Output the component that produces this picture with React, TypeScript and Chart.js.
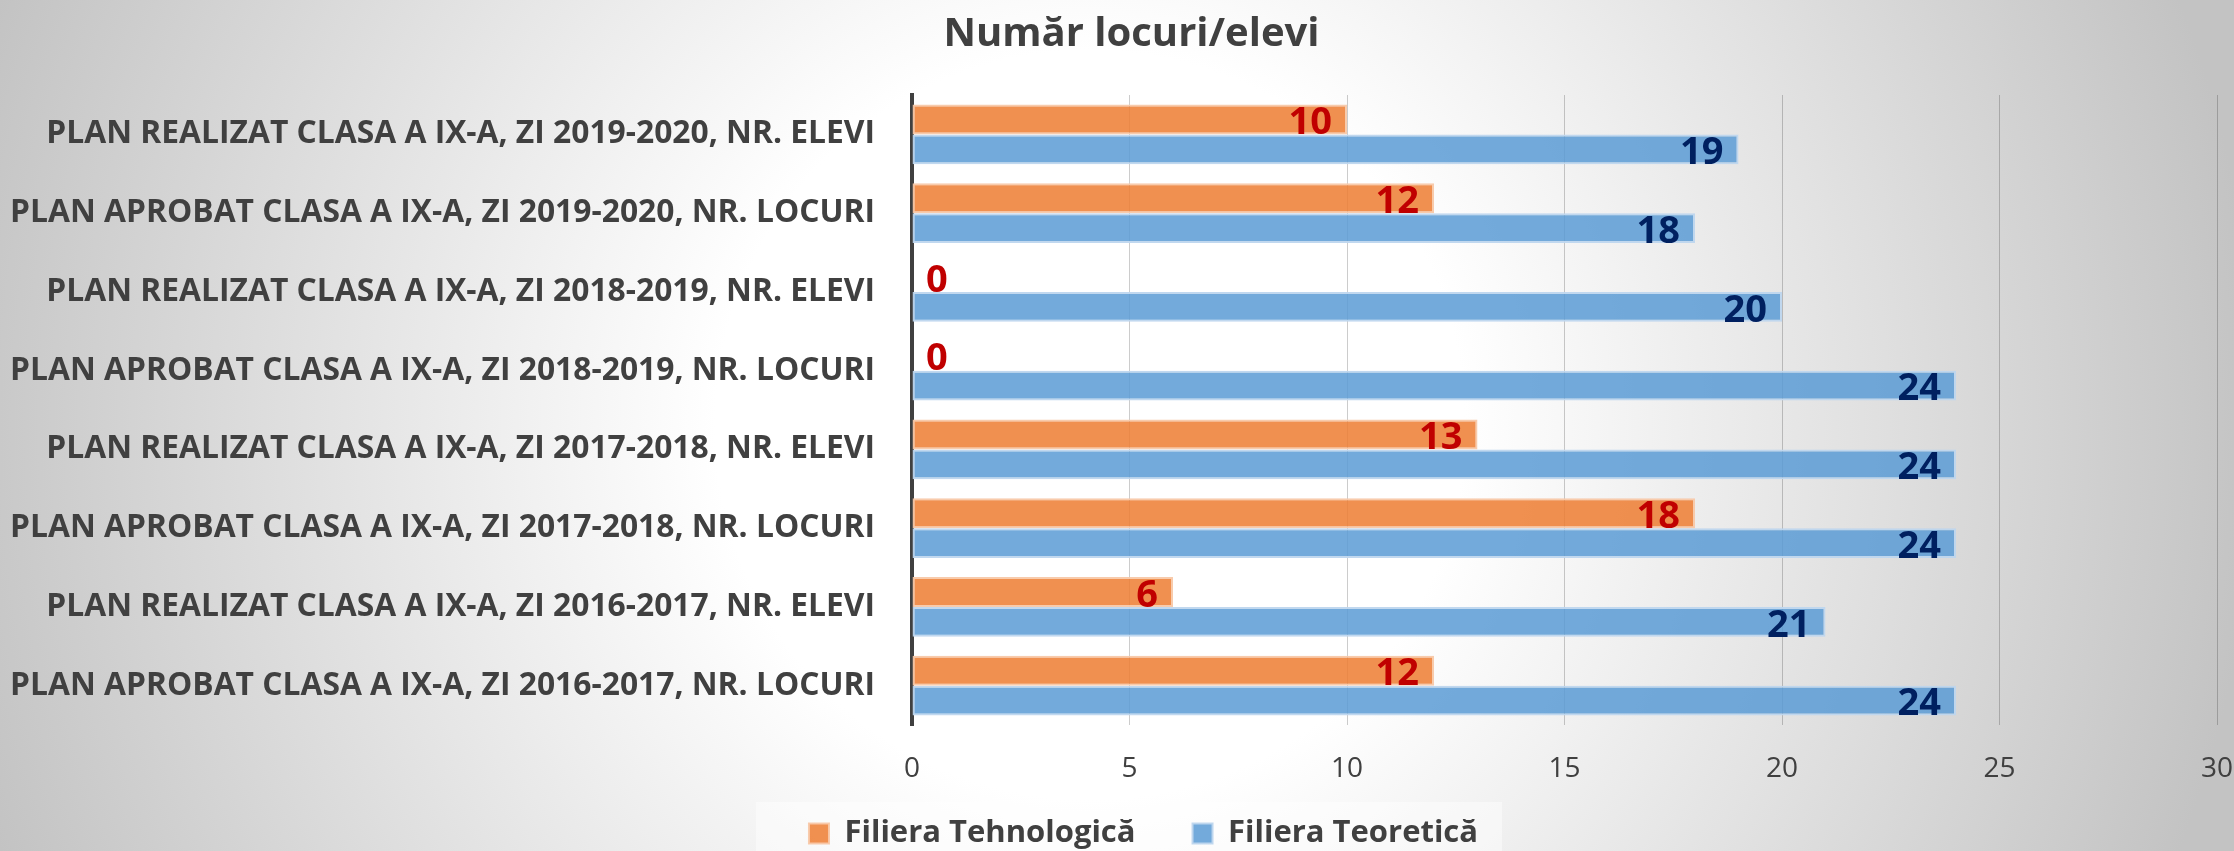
import React, { useEffect, useRef } from "react";
import { Chart, registerables } from "chart.js";

Chart.register(...registerables);

const categories = [
  "PLAN REALIZAT CLASA A IX-A, ZI 2019-2020, NR. ELEVI",
  "PLAN APROBAT CLASA A IX-A, ZI 2019-2020, NR. LOCURI",
  "PLAN REALIZAT CLASA A IX-A, ZI 2018-2019, NR. ELEVI",
  "PLAN APROBAT CLASA A IX-A, ZI 2018-2019, NR. LOCURI",
  "PLAN REALIZAT CLASA A IX-A, ZI 2017-2018, NR. ELEVI",
  "PLAN APROBAT CLASA A IX-A, ZI 2017-2018, NR. LOCURI",
  "PLAN REALIZAT CLASA A IX-A, ZI 2016-2017, NR. ELEVI",
  "PLAN APROBAT CLASA A IX-A, ZI 2016-2017, NR. LOCURI",
];

const filieraTehnologica = [10, 12, 0, 0, 13, 18, 6, 12];
const filieraTeoretica = [19, 18, 20, 24, 24, 24, 21, 24];

const seriesNames = ["Filiera Tehnologică", "Filiera Teoretică"];
const xMin = 0;
const xMax = 30;
const xStep = 5;

const FONT = "'Open Sans', 'Noto Sans', sans-serif";
const TEXT = "#404040";

const backgroundPlugin = {
  id: "bgPlugin",
  afterLayout(chart: any) {
    // let axis labels draw outside the scale boxes (avoid label clipping)
    const y = chart.scales.y;
    const x = chart.scales.x;
    if (y) y.left = 0;
    if (x) x.bottom = chart.height;
    const lg = chart.legend;
    if (lg) {
      lg.top += 8;
      lg.bottom += 8;
      lg.left += 12;
      lg.right += 12;
    }
  },
  beforeDraw(chart: any) {
    const { ctx, width, height } = chart;
    ctx.save();
    const g = ctx.createRadialGradient(1090, 425, 0, 1090, 425, 1170);
    g.addColorStop(0, "#ffffff");
    g.addColorStop(0.32, "#ffffff");
    g.addColorStop(1, "#c3c3c3");
    ctx.fillStyle = g;
    ctx.fillRect(0, 0, width, height);
    ctx.fillStyle = "rgba(255,255,255,0.45)";
    ctx.fillRect(756, 802, 746, height - 802);
    ctx.restore();
  },
};

const labelColors = ["#C00000", "#002060"];

const dataLabelPlugin = {
  id: "dataLabelPlugin",
  afterDatasetsDraw(chart: any) {
    const { ctx } = chart;
    ctx.save();
    ctx.font = `bold 38px ${FONT}`;
    ctx.textBaseline = "middle";
    chart.data.datasets.forEach((ds: any, i: number) => {
      const meta = chart.getDatasetMeta(i);
      meta.data.forEach((el: any, j: number) => {
        const v = ds.data[j];
        ctx.fillStyle = labelColors[i];
        if (v === 0) {
          ctx.textAlign = "left";
          ctx.fillText(String(v), el.base + 14, el.y + 4);
        } else {
          ctx.textAlign = "right";
          ctx.fillText(String(v), el.x - 15, el.y + 4);
        }
      });
    });
    ctx.restore();
  },
};

export default function App() {
  const canvasRef = useRef<HTMLCanvasElement | null>(null);

  useEffect(() => {
    if (!canvasRef.current) return;
    const chart = new Chart(canvasRef.current, {
      type: "bar",
      data: {
        labels: categories,
        datasets: [
          {
            label: seriesNames[0],
            data: filieraTehnologica,
            backgroundColor: "rgba(237,125,49,0.85)",
            borderColor: "rgba(248,200,168,0.95)",
            borderWidth: 2,
            borderSkipped: false,
            categoryPercentage: 0.76,
            barPercentage: 1,
          },
          {
            label: seriesNames[1],
            data: filieraTeoretica,
            backgroundColor: "rgba(91,155,213,0.85)",
            borderColor: "rgba(190,214,238,0.95)",
            borderWidth: 2,
            borderSkipped: false,
            categoryPercentage: 0.76,
            barPercentage: 1,
          },
        ],
      },
      options: {
        indexAxis: "y",
        responsive: false,
        animation: false,
        layout: { padding: { left: 46, right: 17, top: 0, bottom: 0 } },
        plugins: {
          title: {
            display: true,
            text: "Număr locuri/elevi",
            color: TEXT,
            font: { family: FONT, size: 40, weight: "bold" },
            padding: { top: 11, bottom: 36 },
          },
          legend: {
            display: true,
            position: "bottom",
            labels: {
              color: TEXT,
              font: { family: FONT, size: 31, weight: "bold" },
              boxWidth: 20,
              boxHeight: 20,
              padding: 57,
            },
          },
          tooltip: { enabled: false },
        },
        scales: {
          x: {
            min: xMin,
            max: xMax,
            ticks: {
              stepSize: xStep,
              color: TEXT,
              font: { family: FONT, size: 28 },
              padding: 0,
            },
            grid: {
              color: "rgba(0,0,0,0.2)",
              lineWidth: 1,
              drawTicks: true,
              tickLength: 27,
              tickColor: "rgba(0,0,0,0)",
            },
            border: { display: false },
            afterFit: (s: any) => {
              s.height = 28;
            },
          },
          y: {
            ticks: {
              color: TEXT,
              font: { family: FONT, size: 31.8, weight: "bold" },
              padding: 37,
            },
            grid: { display: false, drawTicks: false },
            border: { display: true, color: "#404040", width: 4 },
            afterFit: (s: any) => {
              s.width = 866;
            },
          },
        },
      } as any,
      plugins: [backgroundPlugin, dataLabelPlugin],
    });
    return () => chart.destroy();
  }, []);

  return (
    <div style={{ position: "fixed", left: 0, top: 0, width: 2234, height: 851 }}>
      <canvas ref={canvasRef} width={2234} height={851} style={{ display: "block" }} />
    </div>
  );
}
